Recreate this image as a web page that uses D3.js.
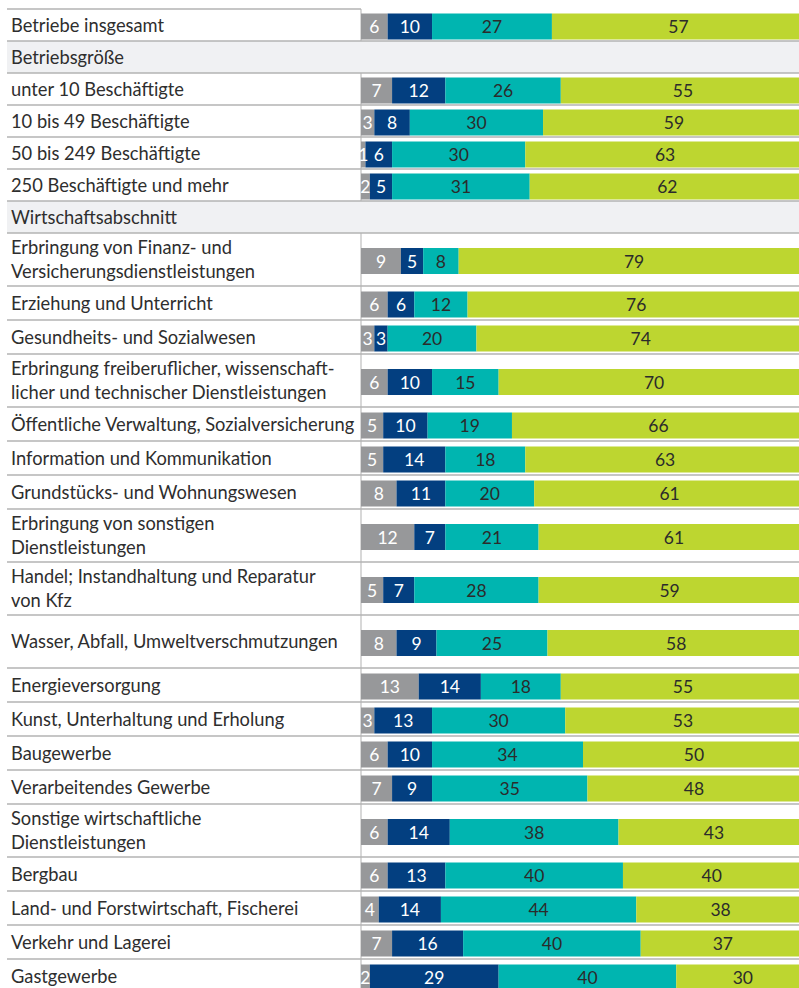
<!DOCTYPE html>
<html>
<head>
<meta charset="utf-8">
<script src="https://cdn.jsdelivr.net/npm/d3@7"></script>
<style>
	body { margin: 0; background: #fff; }
	svg { display: block; }
	text { font-family: Lato, "Noto Sans", sans-serif; }
</style>
</head>
<body>
<svg id="chart" width="799" height="988"></svg>
<script>
// rows, in drawing order; null values mark a section header
var row_labels = [
	['Betriebe insgesamt'],
	['Betriebsgröße'],
	['unter 10 Beschäftigte'],
	['10 bis 49 Beschäftigte'],
	['50 bis 249 Beschäftigte'],
	['250 Beschäftigte und mehr'],
	['Wirtschaftsabschnitt'],
	['Erbringung von Finanz- und', 'Versicherungsdienstleistungen'],
	['Erziehung und Unterricht'],
	['Gesundheits- und Sozialwesen'],
	['Erbringung freiberuflicher, wissenschaft-', 'licher und technischer Dienstleistungen'],
	['Öffentliche Verwaltung, Sozialversicherung'],
	['Information und Kommunikation'],
	['Grundstücks- und Wohnungswesen'],
	['Erbringung von sonstigen', 'Dienstleistungen'],
	['Handel; Instandhaltung und Reparatur', 'von Kfz'],
	['Wasser, Abfall, Umweltverschmutzungen'],
	['Energieversorgung'],
	['Kunst, Unterhaltung und Erholung'],
	['Baugewerbe'],
	['Verarbeitendes Gewerbe'],
	['Sonstige wirtschaftliche', 'Dienstleistungen'],
	['Bergbau'],
	['Land- und Forstwirtschaft, Fischerei'],
	['Verkehr und Lagerei'],
	['Gastgewerbe']
];

var seg1 = [6, null, 7, 3, 1, 2, null, 9, 6, 3, 6, 5, 5, 8, 12, 5, 8, 13, 3, 6, 7, 6, 6, 4, 7, 2];
var seg2 = [10, null, 12, 8, 6, 5, null, 5, 6, 3, 10, 10, 14, 11, 7, 7, 9, 14, 13, 10, 9, 14, 13, 14, 16, 29];
var seg3 = [27, null, 26, 30, 30, 31, null, 8, 12, 20, 15, 19, 18, 20, 21, 28, 25, 18, 30, 34, 35, 38, 40, 44, 40, 40];
var seg4 = [57, null, 55, 59, 63, 62, null, 79, 76, 74, 70, 66, 63, 61, 61, 59, 58, 55, 53, 50, 48, 43, 40, 38, 37, 30];

var seg_colors = ['#97989a', '#033f80', '#00b5b0', '#bdd630'];
var seg_text = ['#ffffff', '#ffffff', '#2b2b2b', '#2b2b2b'];

// the single-line label that still gets a double row
var tall_rows = ['Wasser, Abfall, Umweltverschmutzungen'];

var svg = d3.select('#chart');
var width = +svg.attr('width');
var left = 7, axis_x = 361;

var x_scale = d3.scaleLinear().domain([0, 100]).range([axis_x, 805]);

// build the rows with their heights
var rows = [];
var y = 9, in_second = false;
row_labels.forEach(function(lines, i) {
	var is_header = seg1[i] == null;
	if(is_header && lines[0] == 'Wirtschaftsabschnitt')
		in_second = true;
	var h = 32;
	if(in_second && !is_header)
		h = (lines.length > 1 || tall_rows.indexOf(lines[0]) >= 0) ? 53 : 34;
	rows.push({lines: lines, header: is_header, y: y, h: h,
		vals: is_header ? null : [seg1[i], seg2[i], seg3[i], seg4[i]]});
	y += h;
});

// header backgrounds
svg.selectAll('.hdr').data(rows.filter(d => d.header)).enter().append('rect')
	.attr('class', 'hdr')
	.attr('x', left).attr('y', d => d.y).attr('width', width - left).attr('height', d => d.h)
	.attr('fill', '#f0f1f3');

// vertical axis line in data rows
svg.selectAll('.vline').data(rows.filter(d => !d.header)).enter().append('line')
	.attr('class', 'vline')
	.attr('x1', axis_x).attr('x2', axis_x)
	.attr('y1', d => d.y).attr('y2', d => d.y + d.h)
	.attr('stroke', '#cbcbcb').attr('stroke-width', 1.5);

// bars
var bar_h = 26;
rows.filter(d => !d.header).forEach(function(r) {
	var cum = 0;
	var by = r.y + r.h / 2 - bar_h / 2 + 1.5;
	var segs = r.vals.map(function(v, k) {
		var s = {v: v, k: k, x0: cum, x1: cum + v};
		cum += v;
		return s;
	});
	var g = svg.append('g');
	g.selectAll('rect').data(segs).enter().append('rect')
		.attr('x', d => x_scale(d.x0)).attr('y', by)
		.attr('width', d => x_scale(d.x1) - x_scale(d.x0)).attr('height', bar_h)
		.attr('fill', d => seg_colors[d.k]);
	g.selectAll('text').data(segs).enter().append('text')
		.attr('x', d => (x_scale(d.x0) + x_scale(d.x1)) / 2)
		.attr('y', by + bar_h / 2 + 6.5)
		.attr('text-anchor', 'middle')
		.attr('font-size', 17.5)
		.attr('fill', d => seg_text[d.k])
		.text(d => d.v);
});

// separator lines
svg.append('line')
	.attr('x1', left).attr('x2', axis_x).attr('y1', rows[0].y).attr('y2', rows[0].y)
	.attr('stroke', '#b3b3b3').attr('stroke-width', 1.5);
svg.selectAll('.sep').data(rows).enter().append('line')
	.attr('class', 'sep')
	.attr('x1', left).attr('x2', width)
	.attr('y1', d => d.y + d.h).attr('y2', d => d.y + d.h)
	.attr('stroke', '#b3b3b3').attr('stroke-width', 1.5);

// row labels
var lab = svg.selectAll('.lab').data(rows).enter().append('text')
	.attr('class', 'lab')
	.attr('font-size', 18.3)
	.attr('fill', '#2e2e2e');
lab.each(function(r) {
	var n = r.lines.length;
	var cy = r.y + r.h / 2 + 6.5;
	var t = d3.select(this);
	r.lines.forEach(function(line, j) {
		t.append('tspan')
			.attr('x', 11)
			.attr('y', cy + (j - (n - 1) / 2) * 23.5)
			.text(line);
	});
});
</script>
</body>
</html>
